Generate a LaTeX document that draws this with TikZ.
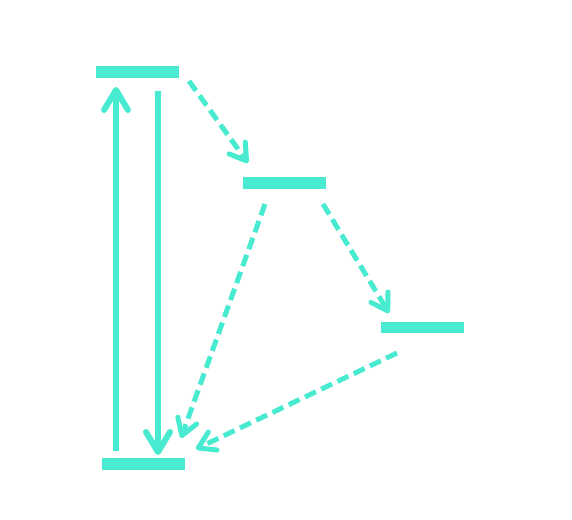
\documentclass[tikz,border=0pt]{standalone}
\usetikzlibrary{arrows.meta}
\definecolor{tq}{RGB}{72,234,208}
\begin{document}
\begin{tikzpicture}[x=1pt,y=-1pt,
  level/.style={fill=tq,draw=none,minimum width=83pt,minimum height=11.5pt,inner sep=0pt,outer sep=0pt},
  solidarrow/.style={draw=tq,line width=6pt,-{Straight Barb[length=20pt,width=24pt,line cap=round,line join=round]}},
  dasharrow/.style={draw=tq,line width=5pt,dash pattern=on 12pt off 6pt,-{Straight Barb[length=16pt,width=20pt,line cap=round,line join=round]}}]
\useasboundingbox (0,0) rectangle (572,519);
\node[level] (top) at (137.5,72) {};
\node[level] (mid) at (284.5,183) {};
\node[level] (right) at (422,327.5) {};
\node[level] (bot) at (143.5,464) {};
\coordinate (upS) at (116,451);
\coordinate (upE) at (116,87);
\coordinate (dnS) at (158,91);
\coordinate (dnE) at (158,455);
\coordinate (d1S) at (189,81);
\coordinate (d1E) at (248,163);
\coordinate (d2S) at (265,204);
\coordinate (d2E) at (181,438);
\coordinate (d3S) at (323,204);
\coordinate (d3E) at (389,313);
\coordinate (d4S) at (397,353);
\coordinate (d4E) at (196,449);
\draw[solidarrow] (upS) -- (upE);
\draw[solidarrow] (dnS) -- (dnE);
\draw[dasharrow] (d1S) -- (d1E);
\draw[dasharrow] (d2S) -- (d2E);
\draw[dasharrow] (d3S) -- (d3E);
\draw[dasharrow] (d4S) -- (d4E);
\end{tikzpicture}
\end{document}
